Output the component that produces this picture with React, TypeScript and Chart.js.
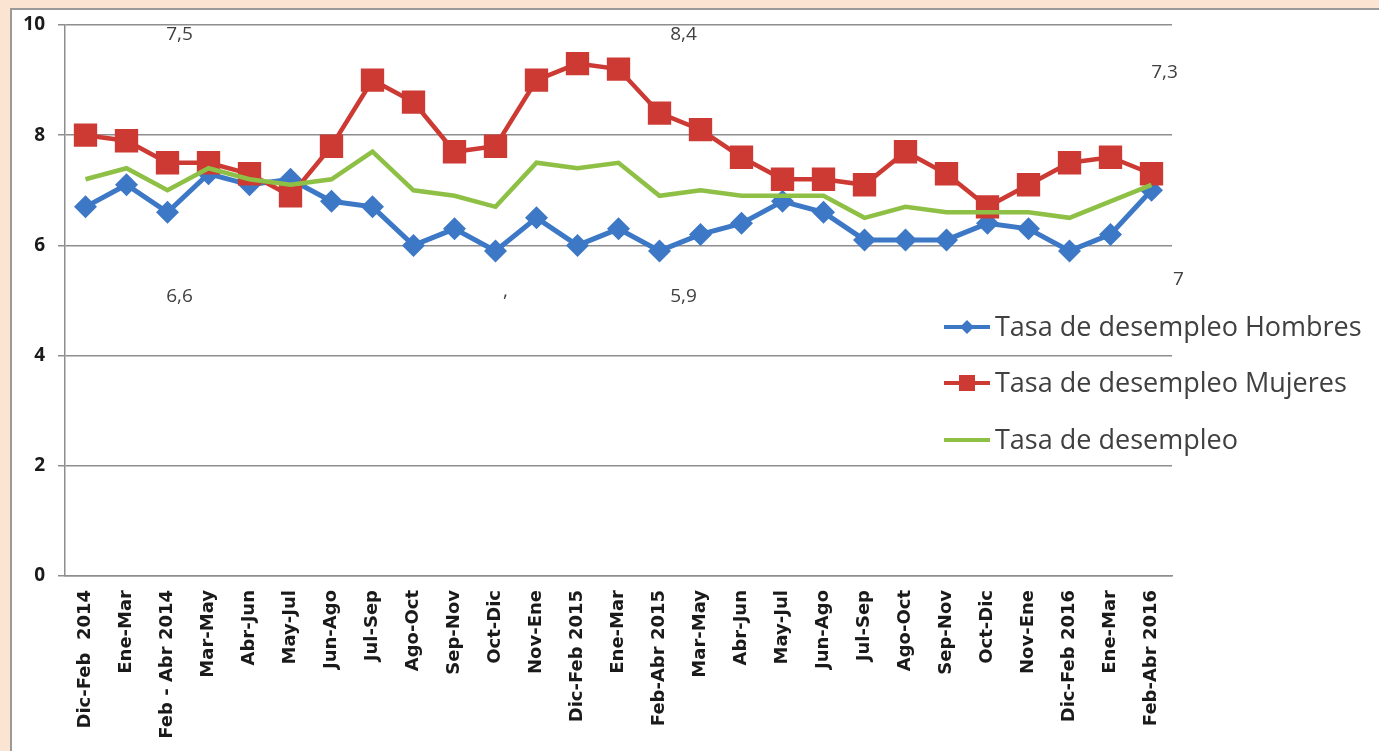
import React, { useEffect, useRef } from "react";
import { Chart, registerables } from "chart.js";

Chart.register(...registerables);

const categories = [
  "Dic-Feb  2014", "Ene-Mar", "Feb - Abr 2014", "Mar-May", "Abr-Jun", "May-Jul", "Jun-Ago",
  "Jul-Sep", "Ago-Oct", "Sep-Nov", "Oct-Dic", "Nov-Ene", "Dic-Feb 2015", "Ene-Mar",
  "Feb-Abr 2015", "Mar-May", "Abr-Jun", "May-Jul", "Jun-Ago", "Jul-Sep", "Ago-Oct",
  "Sep-Nov", "Oct-Dic", "Nov-Ene", "Dic-Feb 2016", "Ene-Mar", "Feb-Abr 2016",
];

const hombres = [6.7, 7.1, 6.6, 7.3, 7.1, 7.2, 6.8, 6.7, 6.0, 6.3, 5.9, 6.5, 6.0, 6.3, 5.9, 6.2, 6.4, 6.8, 6.6, 6.1, 6.1, 6.1, 6.4, 6.3, 5.9, 6.2, 7.0];
const mujeres = [8.0, 7.9, 7.5, 7.5, 7.3, 6.9, 7.8, 9.0, 8.6, 7.7, 7.8, 9.0, 9.3, 9.2, 8.4, 8.1, 7.6, 7.2, 7.2, 7.1, 7.7, 7.3, 6.7, 7.1, 7.5, 7.6, 7.3];
const total = [7.2, 7.4, 7.0, 7.4, 7.2, 7.1, 7.2, 7.7, 7.0, 6.9, 6.7, 7.5, 7.4, 7.5, 6.9, 7.0, 6.9, 6.9, 6.9, 6.5, 6.7, 6.6, 6.6, 6.6, 6.5, 6.8, 7.1];

const seriesNames = ["Tasa de desempleo Hombres", "Tasa de desempleo Mujeres", "Tasa de desempleo"];
const yTicks = [0, 2, 4, 6, 8, 10];

// indices whose values appear as stray data labels
const labeledIdx = [2, 14, 26];

const BLUE = "#3D78C6";
const RED = "#CC3A33";
const GREEN = "#8FC046";
const GRID = "#8E8E8E";
const FONT = "'Open Sans', sans-serif";
const XFONT = "'DejaVu Sans', sans-serif";

const fmt = (v: number) => (Number.isInteger(v) ? String(v) : v.toFixed(1).replace(".", ","));

const annotationPlugin = {
  id: "annotations",
  afterDraw(chart: any) {
    const ctx = chart.ctx;
    const xs = chart.scales.x;
    ctx.save();
    ctx.fillStyle = "#404040";
    ctx.font = `19px ${FONT}`;
    ctx.textAlign = "center";
    ctx.textBaseline = "middle";
    const topDx = [12, 24, 13];
    const topY = [35, 35, 73];
    const botDx = [12, 24, 27];
    const botY = [297, 297, 280];
    labeledIdx.forEach((idx, k) => {
      ctx.fillText(fmt(mujeres[idx]), xs.getPixelForValue(idx) + topDx[k], topY[k]);
      ctx.fillText(fmt(hombres[idx]), xs.getPixelForValue(idx) + botDx[k], botY[k]);
    });
    ctx.fillText(",", xs.getPixelForValue(10) + 10, 292);

    // legend
    const ly = [327, 383, 440];
    const colors = [BLUE, RED, GREEN];
    ctx.font = `27px ${FONT}`;
    ctx.textAlign = "left";
    seriesNames.forEach((name, i) => {
      const y = ly[i];
      ctx.strokeStyle = colors[i];
      ctx.lineWidth = 4;
      ctx.beginPath();
      ctx.moveTo(944, y);
      ctx.lineTo(990, y);
      ctx.stroke();
      ctx.fillStyle = colors[i];
      if (i === 0) {
        ctx.beginPath();
        ctx.moveTo(967, y - 7);
        ctx.lineTo(974, y);
        ctx.lineTo(967, y + 7);
        ctx.lineTo(960, y);
        ctx.closePath();
        ctx.fill();
      } else if (i === 1) {
        ctx.fillRect(959, y - 8, 16, 16);
      }
      ctx.fillStyle = "#404040";
      ctx.fillText(name, 995, y + 1);
    });
    ctx.restore();
  },
};

export default function App() {
  const ref = useRef<HTMLCanvasElement>(null);
  useEffect(() => {
    document.body.style.margin = "0";
    const chart = new Chart(ref.current!, {
      type: "line",
      data: {
        labels: categories,
        datasets: [
          {
            label: seriesNames[0],
            data: hombres,
            borderColor: BLUE,
            backgroundColor: BLUE,
            borderWidth: 5,
            pointStyle: "rectRot",
            pointRadius: 11.5,
            pointBorderWidth: 0,
            tension: 0,
            order: 2,
          },
          {
            label: seriesNames[1],
            data: mujeres,
            borderColor: RED,
            backgroundColor: RED,
            borderWidth: 4.5,
            pointStyle: "rect",
            pointRadius: 16.5,
            pointBorderWidth: 0,
            tension: 0,
            order: 1,
          },
          {
            label: seriesNames[2],
            data: total,
            borderColor: GREEN,
            backgroundColor: GREEN,
            borderWidth: 4.5,
            pointRadius: 0,
            tension: 0,
            order: 0,
          },
        ],
      },
      options: {
        responsive: false,
        animation: false,
        layout: { padding: { top: 25, right: 207, left: 0, bottom: 0 } },
        plugins: { legend: { display: false }, tooltip: { enabled: false } },
        scales: {
          x: {
            type: "category",
            offset: true,
            grid: { display: false, drawTicks: false },
            border: { display: true, color: GRID, width: 1.5 },
            ticks: {
              autoSkip: false,
              maxRotation: 90,
              minRotation: 90,
              padding: 14,
              color: "#1a1a1a",
              font: { family: XFONT, weight: "bold", size: 18 },
            },
            afterFit: (s: any) => {
              s.height = 175;
            },
          },
          y: {
            min: 0,
            max: 10,
            afterBuildTicks: (s: any) => {
              s.ticks = yTicks.map((v) => ({ value: v }));
            },
            ticks: {
              padding: 13,
              color: "#1a1a1a",
              font: { family: FONT, weight: "bold", size: 19 },
            },
            grid: { color: GRID, lineWidth: 1.5, tickLength: 7, drawTicks: true },
            border: { display: true, color: GRID, width: 1.5 },
            afterFit: (s: any) => {
              s.width = 65;
            },
          },
        },
      },
      plugins: [annotationPlugin],
    } as any);
    return () => chart.destroy();
  }, []);

  return (
    <div style={{ position: "fixed", left: 0, top: 0, width: 1379, height: 751, background: "#FCE4D3", overflow: "hidden" }}>
      <div
        style={{
          position: "absolute",
          left: 10,
          top: 8,
          width: 1400,
          height: 800,
          background: "#ffffff",
          borderLeft: "2px solid #9a9a9a",
          borderTop: "2px solid #9a9a9a",
        }}
      />
      <canvas ref={ref} width={1379} height={751} style={{ position: "absolute", left: 0, top: 0 }} />
    </div>
  );
}
